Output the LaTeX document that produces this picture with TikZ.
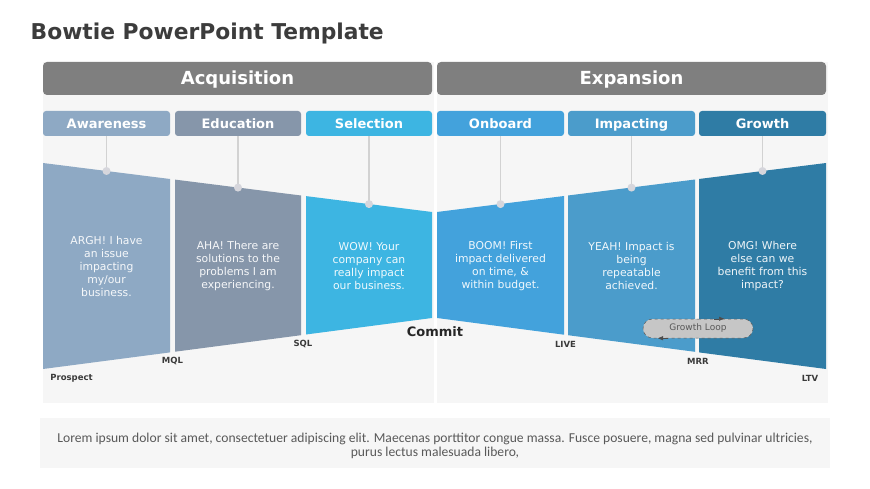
\documentclass[tikz,border=0pt]{standalone}
\usepackage{fontspec}
\setmainfont{DejaVu Sans}
\newfontfamily\loremfont{Carlito}
\usetikzlibrary{arrows.meta,shapes.misc}
\definecolor{titlegray}{HTML}{3C3C3C}
\definecolor{hdrgray}{HTML}{7F7F7F}
\definecolor{panelgray}{HTML}{F6F6F6}
\definecolor{linegray}{HTML}{D2D2D2}
\definecolor{dotgray}{HTML}{D6D6DC}
\definecolor{labelgray}{HTML}{3A3A3A}
\definecolor{loremgray}{HTML}{595959}
\definecolor{loopgray}{HTML}{C6C6C6}
\definecolor{cAw}{HTML}{8EA9C4}
\definecolor{cEd}{HTML}{8696AA}
\definecolor{cSe}{HTML}{3DB5E2}
\definecolor{cOn}{HTML}{43A2DC}
\definecolor{cIm}{HTML}{4B9CCB}
\definecolor{cGr}{HTML}{2F7CA5}
\tikzset{
  header/.style={fill=hdrgray, rounded corners=4pt, minimum width=389pt, minimum height=33pt,
    text=white, font=\bfseries\fontsize{18}{20}\selectfont, inner sep=0pt, text height=13pt, text depth=0pt},
  tabbox/.style={rounded corners=3pt, minimum width=127pt, minimum height=25pt,
    text=white, font=\bfseries\fontsize{13}{15}\selectfont, inner sep=0pt, text height=11pt, text depth=0pt},
  coltext/.style={text=white, text opacity=0.92, align=center, font=\fontsize{10.8}{13}\selectfont, inner sep=0pt},
  stagelbl/.style={font=\bfseries\fontsize{8.5}{10}\selectfont, text=labelgray, inner sep=0pt},
  hanger/.style={draw=linegray, line width=1.5pt},
  hdot/.style={circle, fill=dotgray, minimum size=8pt, inner sep=0pt},
  loopbox/.style={rounded rectangle, fill=loopgray, draw=gray!70!black, dashed, line width=0.5pt,
    minimum width=110pt, minimum height=19pt, inner sep=0pt, text=loremgray,
    font=\fontsize{9}{10}\selectfont},
  looptip/.style={-{Triangle[length=5pt,width=4pt]}, draw=gray!60!black, line width=0.5pt},
}
\begin{document}
\begin{tikzpicture}[x=1pt,y=-1pt]
\useasboundingbox[fill=white] (0,0) rectangle (870,489);

% title
\node[anchor=west, text=titlegray, font=\bfseries\fontsize{21.8}{24}\selectfont, inner sep=0pt] (title) at (30.5,33.5) {Bowtie PowerPoint Template};

% panels
\fill[panelgray] (43,62) rectangle (433.5,403);
\fill[panelgray] (436.5,62) rectangle (828,403);

% headers
\node[header] (acq) at (237.5,78.5) {Acquisition};
\node[header] (exp) at (631.5,78.5) {Expansion};

% tabs
\node[tabbox, fill=cAw] (t1) at (106.5,123.5) {Awareness};
\node[tabbox, fill=cEd, minimum width=126pt] (t2) at (238,123.5) {Education};
\node[tabbox, fill=cSe, minimum width=126pt] (t3) at (369,123.5) {Selection};
\node[tabbox, fill=cOn] (t4) at (500.5,123.5) {Onboard};
\node[tabbox, fill=cIm] (t5) at (631.5,123.5) {Impacting};
\node[tabbox, fill=cGr] (t6) at (762.5,123.5) {Growth};

% bowtie columns
\fill[cAw] (43,163) -- (170,179) -- (170,352.4) -- (43,369) -- cycle;
\fill[cEd] (175,179.6) -- (301,195.5) -- (301,335.2) -- (175,351.7) -- cycle;
\fill[cSe] (306,196.1) -- (432,212) -- (432,318) -- (306,334.5) -- cycle;
\fill[cOn] (437,212) -- (564,196) -- (564,334.7) -- (437,318) -- cycle;
\fill[cIm] (568,195.5) -- (695,179.5) -- (695,351.8) -- (568,335.2) -- cycle;
\fill[cGr] (699,179) -- (826,163) -- (826,369) -- (699,352.4) -- cycle;

% hanger dots
\coordinate (d1) at (106.5,171);
\coordinate (d2) at (238,187.6);
\coordinate (d3) at (369,204.1);
\coordinate (d4) at (500.5,204.1);
\coordinate (d5) at (631.5,187.6);
\coordinate (d6) at (762.5,171);
\foreach \i in {1,...,6} {
  \draw[hanger] (t\i.south) -- (d\i);
  \node[hdot] (p\i) at (d\i) {};
}

% column texts
\node[coltext] (x1) at (106.5,266) {ARGH! I have\\an issue\\impacting\\my/our\\business.};
\node[coltext] (x2) at (238,266) {AHA! There are\\solutions to the\\problems I am\\experiencing.};
\node[coltext] (x3) at (369,266) {WOW! Your\\company can\\really impact\\our business.};
\node[coltext] (x4) at (500.5,266) {BOOM! First\\impact delivered\\on time, \&\\within budget.};
\node[coltext] (x5) at (631.5,266) {YEAH! Impact is\\being\\repeatable\\achieved.};
\node[coltext] (x6) at (762.5,266) {OMG! Where\\else can we\\benefit from this\\impact?};

% stage labels
\node[stagelbl] (lp) at (71.5,378) {Prospect};
\node[stagelbl] (lm) at (172.5,361) {MQL};
\node[stagelbl] (ls) at (303,344) {SQL};
\node[stagelbl, font=\bfseries\fontsize{13}{15}\selectfont, text=black!85] (lc) at (435,331.5) {Commit};
\node[stagelbl] (ll) at (565.5,344) {LIVE};
\node[stagelbl] (lr) at (698,361) {MRR};
\node[stagelbl] (lt) at (810,378) {LTV};

% growth loop
\node[loopbox] (gl) at (698,328.5) {Growth Loop};
\draw[looptip] ([xshift=16pt]gl.north) -- ([xshift=26pt]gl.north);
\draw[looptip] ([xshift=-30pt]gl.south) -- ([xshift=-40pt]gl.south);

% bottom text box
\fill[panelgray] (40,418) rectangle (830,468);
\node[text=loremgray, align=center, font=\loremfont\fontsize{13.6}{14}\selectfont, inner sep=0pt] (lorem) at (435,445.5)
  {Lorem ipsum dolor sit amet, consectetuer adipiscing elit. Maecenas porttitor congue massa. Fusce posuere, magna sed pulvinar ultricies,\\purus lectus malesuada libero,};
\end{tikzpicture}
\end{document}
